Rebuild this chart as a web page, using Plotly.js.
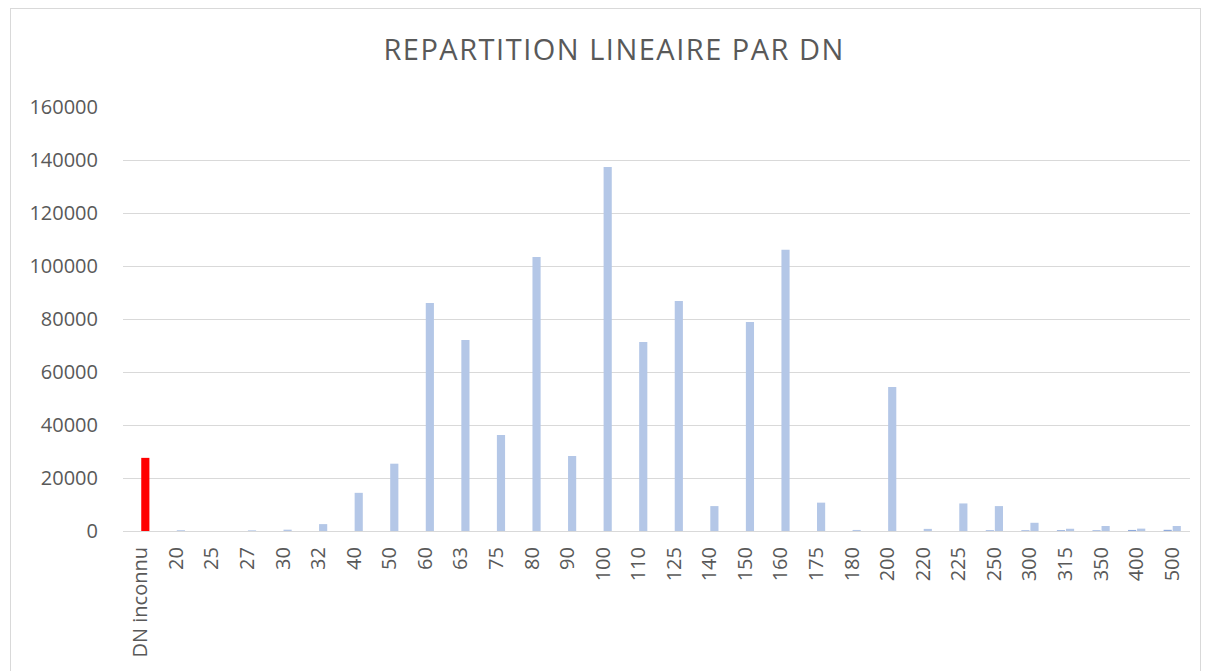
<!DOCTYPE html>
<html>
<head>
<meta charset="utf-8">
<script src="https://cdn.plot.ly/plotly-3.0.1.min.js"></script>
<style>
  html, body { margin: 0; padding: 0; background: #fff; }
  #wrap { position: relative; width: 1209px; height: 671px; }
  #chart { position: absolute; left: 0; top: 0; width: 1209px; height: 671px; }
  #frame { position: absolute; left: 10px; top: 8px; width: 1189px; height: 680px;
           border: 1px solid #D9D9D9; pointer-events: none; }
  .gtitle { letter-spacing: 1.5px; }
</style>
</head>
<body>
<div id="wrap">
  <div id="chart"></div>
  <div id="frame"></div>
</div>
<script>
const categories = ["DN inconnu","20","25","27","30","32","40","50","60","63","75","80","90","100","110","125","140","150","160","175","180","200","220","225","250","300","315","350","400","500"];
// second (main) series: linear length per DN
const lengthMain = [27600,300,0,250,500,2600,14400,25400,86000,72100,36200,103400,28300,137400,71300,86800,9400,78900,106100,10700,400,54300,800,10400,9400,3100,850,1900,900,1900];
// first (minor) series: only a few small values
const lengthMinor = [0,0,0,0,0,0,0,0,0,0,0,0,0,0,0,0,0,0,0,0,0,0,0,0,250,250,300,250,400,450];
const yTicks = [0,20000,40000,60000,80000,100000,120000,140000,160000];

const mainColors = categories.map((c, i) => i === 0 ? "#FF0000" : "#B4C7E7");

const traces = [
  {
    type: "bar", x: categories, y: lengthMinor, name: "minor",
    marker: { color: "#8FAADC" }, hoverinfo: "x+y"
  },
  {
    type: "bar", x: categories, y: lengthMain, name: "main",
    marker: { color: mainColors }, hoverinfo: "x+y"
  }
];

const font = "Open Sans, Noto Sans, sans-serif";
const layout = {
  width: 1209, height: 671,
  paper_bgcolor: "rgba(0,0,0,0)", plot_bgcolor: "rgba(0,0,0,0)",
  margin: { l: 123, r: 19, t: 107, b: 140, pad: 0 },
  showlegend: false,
  barmode: "group", bargap: 0.49, bargroupgap: 0.1,
  title: {
    text: "REPARTITION LINEAIRE PAR DN",
    font: { family: font, size: 29, color: "#595959" },
    x: 0.508, xanchor: "center", y: 0.925, yanchor: "middle"
  },
  xaxis: {
    type: "category", categoryorder: "array", categoryarray: categories,
    tickangle: -90, tickfont: { family: font, size: 20, color: "#595959" },
    showgrid: false, showline: true, linecolor: "#D9D9D9", linewidth: 1,
    ticks: "outside", ticklen: 7, tickcolor: "rgba(0,0,0,0)",
    zeroline: false
  },
  yaxis: {
    range: [0, 160000], tickvals: yTicks, ticktext: yTicks.map(String),
    tickfont: { family: font, size: 20, color: "#595959" },
    showgrid: true, gridcolor: "#D9D9D9", gridwidth: 1,
    zeroline: false, showline: false,
    ticks: "outside", ticklen: 20, tickcolor: "rgba(0,0,0,0)"
  }
};

Plotly.newPlot("chart", traces, layout, { displayModeBar: false, staticPlot: true });
</script>
</body>
</html>
